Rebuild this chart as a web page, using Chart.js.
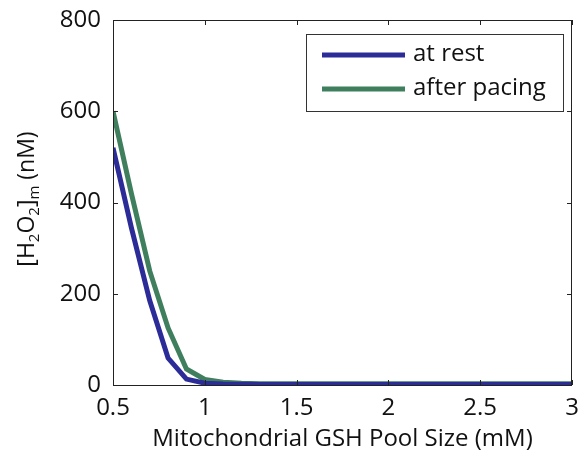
<!DOCTYPE html>
<html>
<head>
<meta charset="utf-8">
<script src="https://cdn.jsdelivr.net/npm/chart.js@4"></script>
<style>
  html, body { margin: 0; padding: 0; background: #fff; }
  #wrap { width: 579px; height: 454px; position: relative; }
</style>
</head>
<body>
<div id="wrap"><canvas id="chart"></canvas></div>
<script>
// ===== Data =====
const gshPool = [0.5, 0.6, 0.7, 0.8, 0.9, 1.0, 1.1, 1.2, 1.3, 1.4, 1.5, 1.6, 1.7, 1.8, 1.9, 2.0, 2.1, 2.2, 2.3, 2.4, 2.5, 2.6, 2.7, 2.8, 2.9, 3.0];
const atRest =      [520, 345, 185, 59, 13, 4, 2, 1.5, 1, 1, 1, 1, 1, 1, 1, 1, 1, 1, 1, 1, 1, 1, 1, 1, 1, 1];
const afterPacing = [600, 420, 250, 125, 35, 12, 6, 4, 3, 3, 2.5, 2.5, 2.5, 2.5, 2.5, 2.5, 2.5, 2.5, 2.5, 2.5, 2.5, 2.5, 2.5, 2.5, 2.5, 2.5];
const xTicks = [0.5, 1, 1.5, 2, 2.5, 3];
const yTicks = [0, 200, 400, 600, 800];

// ===== Style =====
const FONT = '"Open Sans", "Noto Sans", sans-serif';
const BLUE = '#2c2c98';
const GREEN = '#3f7f5e';

// box, inward ticks on all four sides
const frame = {
  id: 'frame',
  afterDatasetsDraw(chart) {
    const { ctx, chartArea: a, scales: { x, y } } = chart;
    ctx.save();
    ctx.strokeStyle = '#222';
    ctx.lineWidth = 1;
    ctx.strokeRect(a.left + 0.5, a.top + 0.5, a.right - a.left - 1, a.bottom - a.top);
    const t = 5;
    ctx.beginPath();
    xTicks.forEach(v => {
      const px = Math.round(x.getPixelForValue(v)) + 0.5;
      ctx.moveTo(px, a.bottom); ctx.lineTo(px, a.bottom - t);
      ctx.moveTo(px, a.top); ctx.lineTo(px, a.top + t);
    });
    yTicks.forEach(v => {
      const py = Math.round(y.getPixelForValue(v)) + 0.5;
      ctx.moveTo(a.left, py); ctx.lineTo(a.left + t, py);
      ctx.moveTo(a.right, py); ctx.lineTo(a.right - t, py);
    });
    ctx.stroke();
    ctx.restore();
  }
};

// legend box in upper right of plot
const boxLegend = {
  id: 'boxLegend',
  afterDraw(chart) {
    const { ctx } = chart;
    const L = 306, T = 34, R = 563, B = 111;
    ctx.save();
    ctx.fillStyle = '#fff';
    ctx.fillRect(L, T, R - L, B - T);
    ctx.strokeStyle = '#333';
    ctx.lineWidth = 1;
    ctx.strokeRect(L + 0.5, T + 0.5, R - L, B - T);
    ctx.font = '24px ' + FONT;
    ctx.textBaseline = 'middle';
    chart.data.datasets.forEach((ds, i) => {
      const yy = 55 + i * 34;
      ctx.strokeStyle = ds.borderColor;
      ctx.lineWidth = 5;
      ctx.beginPath(); ctx.moveTo(322, yy); ctx.lineTo(405, yy); ctx.stroke();
      ctx.fillStyle = '#111';
      ctx.fillText(ds.label, 413, yy - 1);
    });
    ctx.restore();
  }
};

// y title with subscripts: [H2O2]m (nM)
const yTitle = {
  id: 'yTitle',
  afterDraw(chart) {
    const { ctx } = chart;
    const parts = [['[H', 0], ['2', 1], ['O', 0], ['2', 1], [']', 0], ['m', 1], [' (nM)', 0]];
    const big = '23px ' + FONT, small = '15px ' + FONT;
    let total = 0;
    parts.forEach(p => { ctx.font = p[1] ? small : big; total += ctx.measureText(p[0]).width; });
    ctx.save();
    ctx.translate(34, 199);
    ctx.rotate(-Math.PI / 2);
    ctx.fillStyle = '#111';
    ctx.textBaseline = 'alphabetic';
    let cx = -total / 2;
    parts.forEach(p => {
      ctx.font = p[1] ? small : big;
      ctx.fillText(p[0], cx, p[1] ? 5 : 0);
      cx += ctx.measureText(p[0]).width;
    });
    ctx.restore();
  }
};

new Chart(document.getElementById('chart'), {
  type: 'line',
  data: {
    labels: gshPool,
    datasets: [
      { label: 'at rest', data: gshPool.map((v, i) => ({ x: v, y: atRest[i] })), borderColor: BLUE, borderWidth: 5, pointRadius: 0, tension: 0 },
      { label: 'after pacing', data: gshPool.map((v, i) => ({ x: v, y: afterPacing[i] })), borderColor: GREEN, borderWidth: 5, pointRadius: 0, tension: 0 }
    ]
  },
  options: {
    responsive: true, maintainAspectRatio: false, animation: false,
    layout: { padding: { top: 20, right: 7, left: 0, bottom: 0 } },
    plugins: { legend: { display: false }, tooltip: { enabled: false } },
    scales: {
      x: {
        type: 'linear', min: 0.5, max: 3,
        afterBuildTicks: s => { s.ticks = xTicks.map(v => ({ value: v })); },
        afterFit: s => { s.height = 69; s.paddingLeft = 0; s.paddingRight = 0; },
        grid: { display: false, drawTicks: false },
        border: { display: false },
        ticks: { padding: 9, color: '#111', font: { family: FONT, size: 24 }, maxRotation: 0, callback: v => String(v) },
        title: { display: true, text: 'Mitochondrial GSH Pool Size (mM)', color: '#111', font: { family: FONT, size: 24 }, padding: { top: 0, bottom: 0 } }
      },
      y: {
        min: 0, max: 800,
        afterBuildTicks: s => { s.ticks = yTicks.map(v => ({ value: v })); },
        afterFit: s => { s.width = 113; s.paddingTop = 0; s.paddingBottom = 0; },
        grid: { display: false, drawTicks: false },
        border: { display: false },
        ticks: { padding: 12, color: '#111', font: { family: FONT, size: 24 } }
      }
    }
  },
  plugins: [frame, boxLegend, yTitle]
});
</script>
</body>
</html>
